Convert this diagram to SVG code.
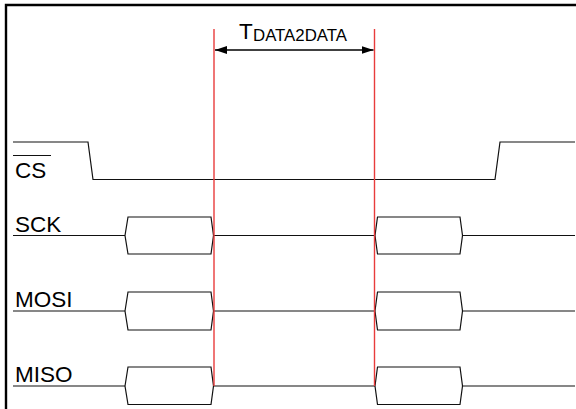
<svg xmlns="http://www.w3.org/2000/svg" width="576" height="409" viewBox="0 0 576 409">
<style>
.lbl{font-family:"Liberation Sans",Arial,sans-serif;font-size:22.5px;fill:#000}
.w{fill:none;stroke:#111;stroke-width:1.2;stroke-linejoin:miter}
.bus{fill:#fff;stroke:#111;stroke-width:1.2}
.red{stroke:#e83c3c;stroke-width:1.4;fill:none}
</style>
<defs>
<marker id="ah" viewBox="0 0 12 8" refX="12" refY="4" markerWidth="12" markerHeight="8" markerUnits="userSpaceOnUse" orient="auto-start-reverse">
<path d="M0,0 L12,4 L0,8 Z" fill="#000"/>
</marker>
</defs>
<rect width="576" height="409" fill="#fff"/>
<g id="frame">
<path d="M6,409 V5 H576" fill="none" stroke="#000" stroke-width="2.4"/>
</g>
<g id="cs">
<path class="w" d="M13,142 H88 L93,179.5 H495 L500,142 H575"/>
<text class="lbl" x="15" y="178">CS</text>
<line x1="13" y1="155.5" x2="51" y2="155.5" stroke="#111" stroke-width="1.2"/>
</g>
<g id="sck">
<path class="w" d="M13,235.5 H125 M213.5,235.5 H375 M462.5,235.5 H575"/>
<path class="bus" d="M125,235.5 L128,217 H211 L213.5,235.5 L211,254 H128 Z"/>
<path class="bus" d="M375,235.5 L377.5,217 H460 L462.5,235.5 L460,254 H377.5 Z"/>
<text class="lbl" x="15" y="232">SCK</text>
</g>
<g id="mosi">
<path class="w" d="M13,311 H125 M213.5,311 H375 M462.5,311 H575"/>
<path class="bus" d="M125,311 L128,292 H211 L213.5,311 L211,330 H128 Z"/>
<path class="bus" d="M375,311 L377.5,292 H460 L462.5,311 L460,330 H377.5 Z"/>
<text class="lbl" x="15" y="307">MOSI</text>
</g>
<g id="miso">
<path class="w" d="M13,386 H125 M213.5,386 H375 M462.5,386 H575"/>
<path class="bus" d="M125,386 L128,367 H211 L213.5,386 L211,404.5 H128 Z"/>
<path class="bus" d="M375,386 L377.5,367 H460 L462.5,386 L460,404.5 H377.5 Z"/>
<text class="lbl" x="15" y="382">MISO</text>
</g>
<g id="connectors">
<line class="red" x1="214" y1="29" x2="214" y2="386"/>
<line class="red" x1="374.5" y1="29" x2="374.5" y2="386"/>
<line x1="215" y1="50" x2="373.5" y2="50" stroke="#000" stroke-width="1.4" marker-start="url(#ah)" marker-end="url(#ah)"/>
</g>
<g id="label-tdata2data">
<text font-family="Liberation Sans,Arial,sans-serif" fill="#000"><tspan x="239" y="39" font-size="22.5">T</tspan><tspan x="253" y="41" font-size="16" textLength="94" lengthAdjust="spacingAndGlyphs">DATA2DATA</tspan></text>
</g>
</svg>
